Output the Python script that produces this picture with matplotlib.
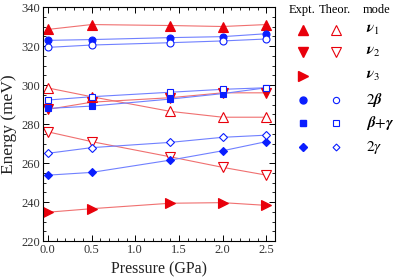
import matplotlib
matplotlib.use("Agg")
import matplotlib.pyplot as plt
from matplotlib.ticker import MultipleLocator

plt.rcParams['font.family'] = ['Liberation Serif', 'DejaVu Serif']
plt.rcParams['mathtext.fontset'] = 'stix'

pressure = [0.0, 0.5, 1.4, 2.0, 2.5]
v1_expt = [328.5, 331.0, 330.5, 330.0, 331.0]
v1_theor = [298.5, 294.0, 286.5, 283.5, 283.5]
v2_expt = [287.5, 291.2, 293.5, 296.0, 296.0]
v2_theor = [276.0, 271.0, 263.2, 257.8, 253.8]
v3_expt = [234.8, 236.6, 239.4, 239.7, 238.3]
b2_expt = [322.9, 323.3, 324.3, 324.8, 326.3]
b2_theor = [319.3, 320.5, 321.7, 322.6, 323.6]
bg_expt = [288.0, 289.2, 292.8, 295.6, 298.6]
bg_theor = [292.3, 294.0, 296.3, 297.8, 298.6]
g2_expt = [253.8, 255.2, 261.5, 266.3, 271.0]
g2_theor = [265.0, 267.9, 270.6, 273.2, 274.3]

mode_labels = [r'$\boldsymbol{\nu}_1$', r'$\boldsymbol{\nu}_2$', r'$\boldsymbol{\nu}_3$',
               r'$2\boldsymbol{\beta}$', r'$\boldsymbol{\beta{+}\gamma}$', r'$2\gamma$']

RED = '#e8000b'
REDL = '#f07070'
BLUE = '#0a1eff'
BLUEL = '#7080ff'

fig = plt.figure(figsize=(3.97, 2.80), dpi=100)
ax = fig.add_axes([0.108, 0.139, 0.585, 0.836])

series = [
    (v1_expt, '^', RED, REDL, True, 7),
    (v1_theor, '^', RED, REDL, False, 6.5),
    (v2_expt, 'v', RED, REDL, True, 7),
    (v2_theor, 'v', RED, REDL, False, 6.5),
    (v3_expt, '>', RED, REDL, True, 7),
    (b2_expt, 'o', BLUE, BLUEL, True, 5),
    (b2_theor, 'o', BLUE, BLUEL, False, 5),
    (bg_expt, 's', BLUE, BLUEL, True, 4.5),
    (bg_theor, 's', BLUE, BLUEL, False, 4.5),
    (g2_expt, 'D', BLUE, BLUEL, True, 4),
    (g2_theor, 'D', BLUE, BLUEL, False, 3.8),
]
for ys, m, c, lc, filled, ms in series:
    ax.plot(pressure, ys, '-', color=lc, lw=0.8, zorder=1)
    ax.plot(pressure, ys, linestyle='none', marker=m, ms=ms,
            markerfacecolor=c if filled else 'white', markeredgecolor=c,
            markeredgewidth=0.8, zorder=2)

ax.set_xlim(-0.057, 2.6)
ax.set_ylim(220, 340)
ax.xaxis.set_major_locator(MultipleLocator(0.5))
ax.xaxis.set_minor_locator(MultipleLocator(0.1))
ax.yaxis.set_major_locator(MultipleLocator(20))
ax.yaxis.set_minor_locator(MultipleLocator(5))
ax.xaxis.set_major_formatter(matplotlib.ticker.FormatStrFormatter('%.1f'))
ax.tick_params(which='both', direction='in', top=True, right=True, labelsize=9,
               pad=2, labelcolor='#333333')
ax.tick_params(which='major', length=4, width=0.7)
ax.tick_params(which='minor', length=2, width=0.6)
for s in ax.spines.values():
    s.set_linewidth(0.8)
ax.set_xlabel('Pressure (GPa)', fontsize=11.5, labelpad=4, color='#222222')
ax.set_ylabel('Energy (meV)', fontsize=12.5, labelpad=3, color='#222222')

# custom legend table
W, H = 397, 280
def fx(px): return px / W
def fy(py): return 1 - py / H
fig.text(fx(302), fy(10), 'Expt.', ha='center', va='center', fontsize=9)
fig.text(fx(335), fy(10), 'Theor.', ha='center', va='center', fontsize=9)
fig.text(fx(377), fy(10), 'mode', ha='center', va='center', fontsize=9)
rows_y = [30, 52, 76, 99.5, 123, 147]
leg = [
    ('^', RED, ('^', RED)),
    ('v', RED, ('v', RED)),
    ('>', RED, None),
    ('o', BLUE, ('o', BLUE)),
    ('s', BLUE, ('s', BLUE)),
    ('D', BLUE, ('D', BLUE)),
]
ms_map = {'^': 7, 'v': 7, '>': 7, 'o': 5, 's': 4.5, 'D': 4}
for (m, c, th), py, lab in zip(leg, rows_y, mode_labels):
    fig.lines.append(matplotlib.lines.Line2D([fx(303)], [fy(py)], marker=m, ms=ms_map[m],
                     markerfacecolor=c, markeredgecolor=c, linestyle='none',
                     transform=fig.transFigure))
    if th is not None:
        fig.lines.append(matplotlib.lines.Line2D([fx(336)], [fy(py)], marker=th[0],
                         ms=ms_map[m] - 0.5, markerfacecolor='white', markeredgecolor=th[1],
                         markeredgewidth=0.8, linestyle='none', transform=fig.transFigure))
    fig.text(fx(366), fy(py), lab, ha='left', va='center', fontsize=11)

fig.savefig('out.png', dpi=100)
